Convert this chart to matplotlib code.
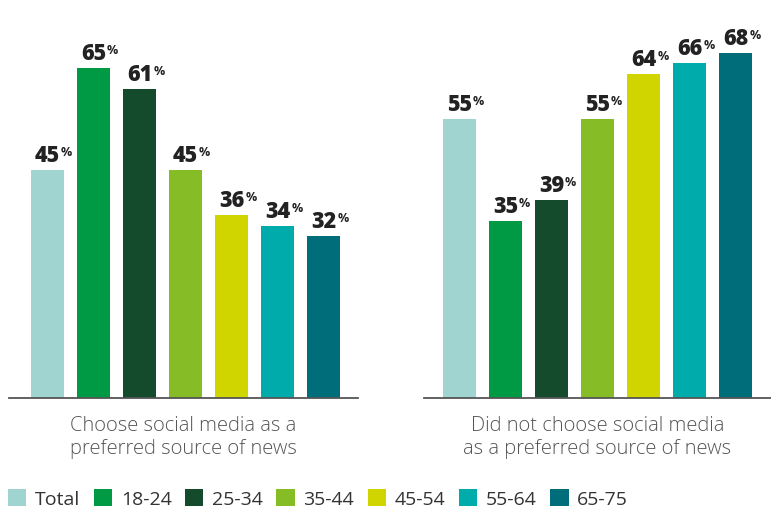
import matplotlib.pyplot as plt
from matplotlib.patches import Patch

plt.rcParams['font.family'] = ['Open Sans', 'DejaVu Sans']

# data
groups = ["Total", "18-24", "25-34", "35-44", "45-54", "55-64", "65-75"]
colors = ["#9fd4d0", "#009a44", "#144b2c", "#86bc25", "#d0d500", "#00abab", "#006d7a"]
chose_social = [45, 65, 61, 45, 36, 34, 32]
not_chose_social = [55, 35, 39, 55, 64, 66, 68]
panel_titles = ["Choose social media as a\npreferred source of news",
                "Did not choose social media\nas a preferred source of news"]

fig = plt.figure(figsize=(7.71, 5.17), dpi=100)
W, H = 771, 517
base = 398  # baseline in px from top

def add_panel(x0, x1, xmin, xmax, values, title):
    ax = fig.add_axes([x0 / W, (H - base) / H, (x1 - x0) / W, base / H])
    xs = range(len(values))
    bars = ax.bar(xs, values, width=0.72, color=colors)
    ax.set_xlim(xmin, xmax)
    ax.set_ylim(0, base / 5.07)
    for s in ["top", "right", "left"]:
        ax.spines[s].set_visible(False)
    ax.spines["bottom"].set_color("#555555")
    ax.spines["bottom"].set_linewidth(1.3)
    ax.set_xticks([])
    ax.set_yticks([])
    ax.patch.set_alpha(0)
    for b, v in zip(bars, values):
        t = ax.annotate(str(v), (b.get_x() + b.get_width() / 2, v),
                        xytext=(0, 2), textcoords="offset pixels",
                        ha="center", va="bottom", fontsize=15.5,
                        fontweight="heavy", color="#222222")
        ax.annotate("%", xy=(1, 1), xycoords=t, xytext=(1, -2),
                    textcoords="offset pixels", ha="left", va="top",
                    fontsize=9, fontweight="bold", color="#222222")
    ax.text(0.5, -0.045, title, transform=ax.transAxes, ha="center", va="top",
            fontsize=14.5, fontweight="light", color="#555555", linespacing=1.2)
    return ax

add_panel(9, 358, -0.837, 6.75, chose_social, panel_titles[0])
add_panel(424, 771, -0.77, 6.77, not_chose_social, panel_titles[1])

handles = [Patch(facecolor=c, edgecolor="none") for c in colors]
leg = fig.legend(handles, groups, loc="center left",
                 bbox_to_anchor=(8 / W, (H - 499) / H),
                 ncol=7, frameon=False, handlelength=0.95, handleheight=0.95,
                 handletextpad=0.45, columnspacing=0.68, borderaxespad=0,
                 borderpad=0, prop={"size": 14})
for t in leg.get_texts():
    t.set_color("#333333")

fig.savefig("out.png", dpi=100)
